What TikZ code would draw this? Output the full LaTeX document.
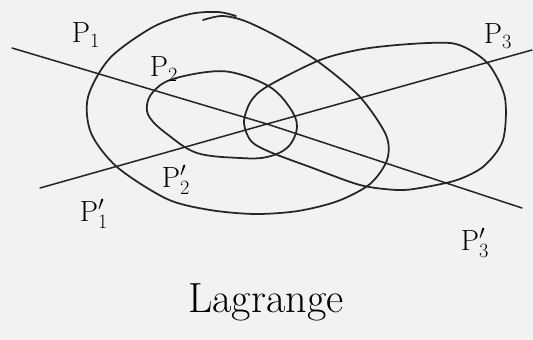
\documentclass[tikz,border=0pt]{standalone}

\begin{document}
\begin{tikzpicture}[
    x=0.03cm, y=-0.03cm,
    curve/.style={line width=1.5pt, black!85, line cap=round, line join=round},
    cross line/.style={line width=1.3pt, black!85, line cap=round},
    point label/.style={font=\fontsize{25}{30}\selectfont},
    title label/.style={font=\fontsize{36}{42}\selectfont}
]
    % Paper
    \fill[black!5] (0,0) rectangle (533,340);
    \useasboundingbox (0,0) rectangle (533,340);

    % Ends of the two lines
    \coordinate (O) at (267,124);
    \coordinate (A1) at (12,48);
    \coordinate (A3) at (522,208);
    \coordinate (B1) at (40,188);
    \coordinate (B3) at (532,50);

    % Lines
    \draw[cross line] (A1) -- (O) -- (A3);
    \draw[cross line] (B1) -- (O) -- (B3);

    % Curves
    \draw[curve] plot[smooth, tension=0.5] coordinates {
        (203,20) (222,16) (245,21) (280,38) (320,63) (360,97) (386,135)
        (387,160) (370,184) (338,201) (298,211) (255,214) (210,210)
        (167,199) (117,167) (91,133) (88,97) (110,58) (153,27) (190,14)
        (218,12) (236,16)};
    \draw[curve] plot[smooth cycle, tension=0.6] coordinates {
        (153,92) (170,80) (207,72) (235,73) (270,87) (290,108) (297,127)
        (288,147) (267,157) (240,158) (197,153) (167,134) (150,118) (147,105)};
    \draw[curve] plot[smooth cycle, tension=0.5] coordinates {
        (244,122) (251,101) (268,86) (320,60) (363,49) (410,44) (450,43)
        (470,50) (490,66) (505,98) (503,140) (484,166) (457,180) (420,188)
        (397,190) (360,185) (310,167) (270,152) (251,141)};

    % Labels
    \node[point label] (p1) at (86,35) {$\mathrm{P}_1$};
    \node[point label] (p2) at (164,69) {$\mathrm{P}_2$};
    \node[point label] (p3) at (498,36) {$\mathrm{P}_3$};
    \node[point label] (q1) at (94,214) {$\mathrm{P}'_1$};
    \node[point label] (q2) at (176,180) {$\mathrm{P}'_2$};
    \node[point label] (q3) at (475,243) {$\mathrm{P}'_3$};

    \node[title label, anchor=base] (title) at (266,312) {Lagrange};
\end{tikzpicture}
\end{document}
